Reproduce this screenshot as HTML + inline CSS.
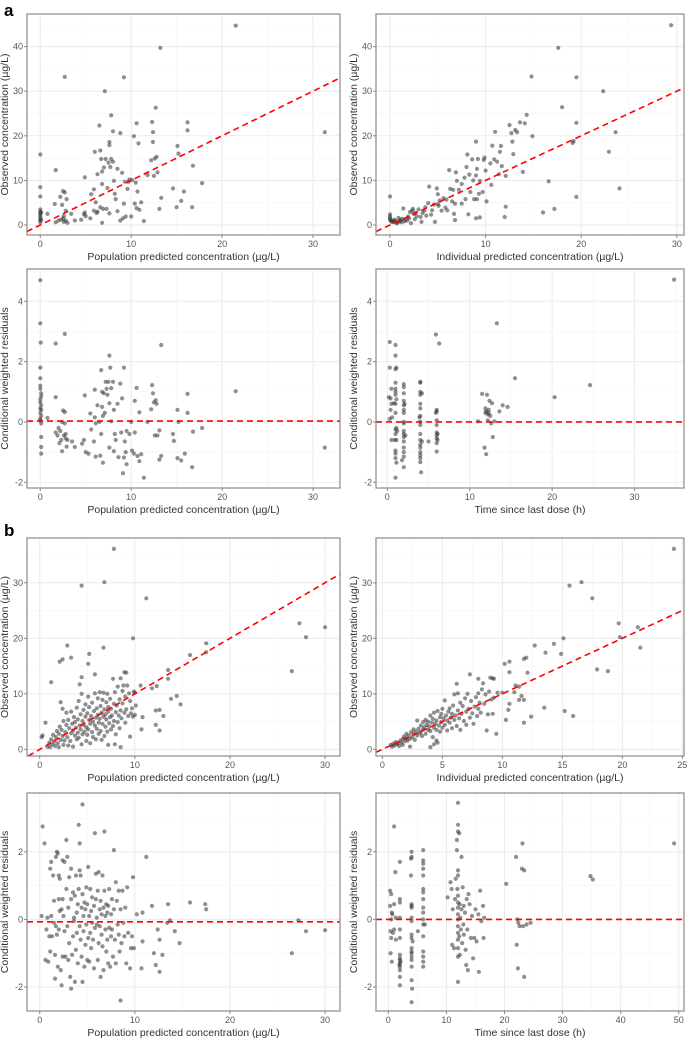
<!DOCTYPE html>
<html><head><meta charset="utf-8"><style>
html,body{margin:0;padding:0;background:#fff}
svg{display:block;font-family:"Liberation Sans",sans-serif}
</style></head><body>
<svg id="fig" width="689" height="1040" viewBox="0 0 689 1040" xmlns="http://www.w3.org/2000/svg">
<text x="4" y="16" font-size="17" font-weight="bold" fill="#000">a</text>
<text x="4" y="536" font-size="17" font-weight="bold" fill="#000">b</text>
</svg>
<script>
const a1Points=[[0,15.8],[0,8.5],[0,6.4],[0,3.5],[0,3],[0,2.6],[0,2.2],[0,1.8],[0,1.4],[0,1],[0,0.6],[0.1,2.8],[0.1,1.2],[0.8,2.5],[1.7,12.3],[1.6,4.7],[1.7,0.6],[2,1],[2.2,6.3],[2.4,4.5],[2.5,7.6],[2.7,7.3],[2.7,33.2],[2.6,2],[2.8,3.2],[2.9,5.8],[2.3,1.2],[2.5,1.5],[2.6,0.7],[3,0.5],[3.4,2.5],[3.8,1],[4.5,1.2],[4.8,2.4],[4.9,10.7],[5,2],[5.5,1.5],[5.6,6.9],[5.9,3.2],[5.9,8],[6,16.4],[6.1,5.1],[6.3,3],[6.3,11.4],[6.5,22.3],[6.6,16.7],[6.8,9.2],[6.7,14.8],[6.8,12],[6.8,0.5],[6.6,4],[6.9,3.6],[7.1,30],[7.2,14.8],[7,12.9],[7.3,3.6],[7.4,8.3],[7.5,14],[7.6,18.6],[7.6,17.9],[7.8,24.6],[7.8,14.8],[7.6,2.6],[7.7,13],[8,14.2],[8,21],[8.1,9.9],[8.2,7],[8.3,5.8],[8.5,12.6],[8.5,3.1],[8.8,20.6],[9,11.7],[9.1,1.5],[9.2,33.1],[9.2,4.8],[9.3,9.7],[9.4,1.9],[9.6,8.1],[9.8,10.2],[10,1.9],[10.3,19.9],[10.4,4.8],[10.5,9.5],[10.6,22.8],[10.6,3.8],[10.7,7.5],[10.8,18.3],[10.9,3.4],[11.1,5.1],[11.4,0.9],[11.8,11.2],[12.2,14.5],[12.3,23.1],[12.4,20.8],[12.4,18.6],[12.5,11],[12.6,14.9],[12.8,15.3],[12.9,11.8],[13.2,39.7],[13.1,3.6],[13.3,6.1],[12.7,26.3],[14.6,8.2],[15,4],[15.1,17.7],[15.2,16],[15.5,5.4],[15.8,7.5],[16.2,23],[16.2,21.2],[16.7,4],[16.8,13.3],[17.8,9.4],[21.5,44.7],[31.3,20.8],[9.7,9.7],[10.1,10.1],[8.8,1],[2.8,1],[4.9,2.8],[6.2,2.7]];
const a2Points=[[0,6.4],[0,2.4],[0,1.9],[0,1.5],[0,1.2],[0.1,0.9],[0.2,0.7],[0.3,1],[0.4,0.6],[0.5,1.2],[0.6,0.8],[0.8,0.5],[1,0.9],[1.2,0.6],[1.3,1.4],[1.4,3.7],[1.6,1.2],[1.8,1],[2,1.5],[2.1,2.9],[2.2,0.4],[2.3,3.2],[2.4,3.6],[2.6,1.3],[2.8,2],[3,3.5],[3.2,1.8],[3.4,2.7],[3.6,3.2],[3.8,2.1],[4,4.9],[4.1,8.6],[4.3,2.3],[4.6,4.6],[4.7,0.7],[4.9,8.2],[5,6.9],[5,4.7],[5.1,4.3],[5.4,3.2],[5.6,6],[5.8,3.9],[6,3.3],[6.2,12.3],[6.3,8.1],[6.5,5.3],[6.6,7.9],[6.7,2.5],[6.8,1.1],[6.9,11.8],[6.8,4.8],[7,9.9],[7.2,7.9],[7.5,4.8],[7.5,9.2],[7.8,10.6],[7.9,5.8],[8,13],[8.1,15.8],[8.2,2.4],[8.3,11.3],[8.4,7.4],[8.6,14.7],[8.7,10],[8.8,5.8],[9,18.7],[9,11.1],[9.1,12.6],[9.1,5.8],[9.2,14.8],[9.3,7],[9.4,1.7],[9,1.5],[9.4,9.9],[9.7,7.4],[9.8,14.6],[9.9,15.1],[10,12.2],[10.1,5.3],[10.5,13.8],[10.6,9],[10.7,17.8],[10.9,14.7],[11,20.9],[11.2,14.2],[11.4,11.4],[11.5,16.4],[11.6,17.7],[11.7,13.2],[12,1.8],[12.1,4.1],[12.1,11],[12.5,22.4],[12.7,20.6],[12.8,18.7],[12.9,15.9],[13.1,21.3],[13.3,20.8],[13.6,23],[13.9,11.9],[14.1,22.8],[14.3,24.7],[14.8,33.3],[14.9,19.9],[16,2.8],[16.6,9.8],[17.2,3.6],[17.6,39.7],[18,26.4],[19.1,18.4],[19.2,18.8],[19.5,33.1],[19.5,22.9],[19.5,6.3],[22.3,30],[22.9,16.4],[23.6,20.8],[24,8.2],[29.4,44.8],[0.7,0.4],[0.9,1.6],[1.1,1.1],[1.5,0.8],[1.9,1.9],[2.5,2.5],[3.7,4],[4.4,3.3],[5.2,5.5],[5.9,5.7],[3.3,0.7],[2.7,2.8]];
const a3Points=[[0,4.7],[0,3.27],[0.05,2.63],[0,1.8],[0,1.45],[0,1.2],[0,1.1],[0.1,0.95],[0.1,0.85],[0,0.75],[0,0.65],[0.1,0.55],[0,0.45],[0.1,0.4],[0,0.3],[0.1,0.2],[0,0.1],[0,0.05],[0.1,-0.05],[0.1,-0.5],[0.1,-0.83],[0.1,-1.05],[0.8,0.13],[1.7,2.6],[1.7,0.82],[1.7,-0.35],[1.9,-0.45],[2,-0.2],[2.1,-0.7],[2.2,-0.3],[2.3,-0.6],[2.4,0],[2.4,-0.97],[2.5,0.38],[2.6,-0.45],[2.7,0.33],[2.7,2.92],[2.7,-0.05],[2.8,-0.4],[2.8,-0.55],[2.9,-0.82],[3,-0.6],[3.5,-0.65],[3.8,-0.83],[4.6,-0.72],[4.8,-0.6],[4.9,0.88],[5,-1],[5.3,-1.05],[5.5,0.28],[5.6,-0.25],[5.9,-0.65],[6,0.15],[6,1.07],[6.1,-0.05],[6.1,-1.15],[6.3,0.55],[6.5,0],[6.6,-1.12],[6.7,1.72],[6.7,-0.4],[6.8,1],[6.8,0.5],[6.9,0.2],[6.9,-1.35],[7,0.95],[7.1,0.3],[7.2,1.33],[7.3,1.1],[7.4,0.9],[7.5,1.33],[7.6,2.2],[7.6,0.62],[7.6,-0.85],[7.7,1.8],[7.8,1.12],[7.8,0.02],[8,1.33],[8.1,0.4],[8.1,-0.97],[8.2,-0.4],[8.3,-0.6],[8.5,0.6],[8.6,-1.17],[8.8,1.27],[8.9,-0.35],[9,0.78],[9.1,-1.7],[9.2,1.8],[9.2,-1.18],[9.3,-0.65],[9.4,-1],[9.5,-1.4],[9.5,-0.3],[9.8,-0.4],[10,0],[10.1,-0.95],[10.3,-1.05],[10.4,0.7],[10.4,-0.35],[10.6,1.13],[10.7,-1.13],[10.9,0.32],[10.9,-1.3],[11.1,-1.07],[11.4,-1.85],[11.8,0],[12.2,0.42],[12.3,1.22],[12.4,0.95],[12.5,0.65],[12.6,-0.45],[12.7,0.72],[12.8,0.6],[12.9,-0.45],[13.1,-0.28],[13.1,-1.25],[13.3,2.55],[13.3,-1.13],[14.6,-0.4],[14.7,-0.63],[15.1,0.4],[15.1,-1.2],[15.2,0],[15.5,-1.28],[15.9,-1.05],[16.2,0.93],[16.2,0.3],[16.7,-1.5],[16.8,-0.32],[17.8,-0.2],[21.5,1.02],[31.3,-0.85]];
const a4Points=[[0.3,2.65],[0.3,1.8],[0.2,0.82],[0.4,0.78],[0.5,0.6],[0.4,0.4],[0.3,0.1],[0.5,-0.6],[0.6,0.15],[0.5,1.1],[0.8,0.62],[1,2.55],[1,2.2],[1.1,1.8],[1,1.75],[1,1.3],[1,1.1],[1,1],[1,0.9],[1.1,0.75],[1,0.6],[1,0.3],[1.1,-0.2],[1,-0.25],[1,-0.4],[1.1,-0.6],[1,-0.95],[1,-1.05],[1,-1.2],[1.1,-1.35],[1,-1.85],[0.9,-0.6],[1.2,-0.3],[2,1.25],[2,1.15],[2,0.95],[2,0.7],[2,0.55],[2,0.4],[2,0.3],[2,0],[2,-0.05],[2,-0.3],[2,-0.4],[2,-0.5],[2,-0.65],[2,-0.85],[2,-1],[2,-1.15],[2,-1.5],[1.8,-1.27],[2.2,-0.45],[2.1,0.6],[4,1.33],[4,1.3],[4,1],[4,0.9],[4,0.6],[4,0.45],[4,0.2],[4,0],[4,-0.1],[4,-0.4],[4,-0.6],[4,-0.75],[4,-0.85],[4,-1],[4,-1.1],[4,-1.2],[4,-1.33],[4.1,-1.67],[3.9,0.15],[4.2,-0.65],[4.2,0.95],[5,-0.65],[5.9,2.9],[6.3,2.6],[6,0.4],[6,0.35],[6,0.05],[6,-0.1],[6,-0.35],[6,-0.45],[6,-0.55],[6,-0.7],[6,-0.98],[6.1,-0.6],[6.1,-0.4],[5.9,0.3],[11,0.02],[11.5,0.93],[11.8,-0.85],[11.9,0.45],[12,0.35],[12,-1.07],[12.1,0.9],[12.2,0.25],[12.3,0.3],[12.3,0.4],[12.4,0.7],[12.5,0.2],[12.6,-0.05],[12.7,0.62],[12.8,-0.5],[13,0.02],[13.3,3.27],[13.6,0.35],[14,0.55],[14.6,0.5],[15.5,1.45],[20.3,0.82],[24.6,1.22],[34.8,4.72],[12.2,0.05],[11.9,0.3]];
const b1Points=[[7.8,36.1],[4.4,29.5],[6.8,30.1],[11.2,27.2],[9.8,20],[2.9,18.7],[6.7,18.3],[3.3,16.5],[2.4,16.2],[2.1,15.8],[5.2,17.2],[5.1,15.4],[5.8,13.5],[4.4,13],[1.2,12.1],[8.9,13.9],[9.1,13.8],[11.8,11],[12.3,11.4],[13.5,12.7],[13.5,14.3],[15.8,17],[17.5,19.1],[17.5,17.5],[26.5,14.1],[27.3,22.7],[28,20.2],[30,22],[12.2,7],[12.6,7.1],[13,6],[12.2,4.4],[12.6,3.4],[10.7,3.6],[10.8,5.8],[13.8,9.1],[14.4,9.6],[14.8,8.1],[9.5,2.3],[8.5,0.4],[7.2,0.8],[7.9,0.9],[10.6,11.5],[9.9,10.4],[10.1,7.9],[0.6,4.8],[0.2,2.2],[0.3,2.5],[0.8,0.5],[1,1.2],[1.1,0.4],[1.2,1.8],[1.3,0.9],[1.4,2.6],[1.5,1.4],[1.6,0.6],[1.7,2.2],[1.8,3.3],[1.9,1.1],[2,0.4],[2,2.8],[2.1,4.1],[2.2,1.7],[2.2,8.5],[2.3,3.5],[2.4,2.4],[2.4,7.3],[2.5,5.1],[2.5,0.8],[2.6,1.6],[2.7,3.1],[2.8,6.6],[2.8,4.4],[2.9,2.2],[3,0.7],[3,5.3],[3.1,3.8],[3.2,1.5],[3.3,2.9],[3.3,6.8],[3.4,4.6],[3.5,0.5],[3.5,3.4],[3.6,5.8],[3.7,2.5],[3.7,4.9],[3.8,3.9],[3.9,7.5],[3.9,1.8],[4,3],[4,5.4],[4.1,8.7],[4.1,2.1],[4.2,4.3],[4.2,11.7],[4.3,6.3],[4.3,3.6],[4.4,10],[4.4,0.9],[4.5,5.1],[4.5,2.7],[4.6,7.1],[4.6,4.4],[4.7,3.2],[4.8,8.1],[4.8,5.9],[4.9,1.5],[4.9,4],[5,6.5],[5,2.6],[5.1,9.5],[5.1,3.6],[5.2,5.3],[5.2,7.6],[5.3,4.6],[5.3,1.1],[5.4,6],[5.5,3.1],[5.5,8.4],[5.6,5],[5.6,2.2],[5.7,6.9],[5.8,4.3],[5.8,10.1],[5.9,5.7],[5.9,1.8],[6,7.4],[6,3.7],[6.1,6.2],[6.1,9.2],[6.2,4.8],[6.2,2.8],[6.3,5.5],[6.3,10.3],[6.4,7.8],[6.4,3.3],[6.5,6.6],[6.5,1.7],[6.6,8.9],[6.6,4.6],[6.7,5.9],[6.7,10.2],[6.8,7.2],[6.8,2.4],[6.9,6.3],[6.9,4.1],[7,8.5],[7,5.4],[7.1,10],[7.1,3.2],[7.2,6.8],[7.2,7.6],[7.3,4.7],[7.4,9.1],[7.4,5.8],[7.5,3.6],[7.5,7.3],[7.6,6.1],[7.7,12.7],[7.7,4.2],[7.8,8.2],[7.8,5.1],[7.9,10.3],[8,6.7],[8,2.7],[8.1,7.9],[8.2,4.9],[8.2,11.3],[8.3,6.1],[8.4,9],[8.4,3.8],[8.5,12.8],[8.5,7],[8.6,5.6],[8.7,10.5],[8.7,8.3],[8.8,11.5],[8.9,6.6],[9,4.8],[9,9.5],[9.1,7.2],[9.2,11.5],[9.3,6],[9.4,10.1],[9.5,8.7],[9.6,6.5],[9.7,7.4],[9.8,5.9],[10,10.2],[10,6.2]];
const b2Points=[[24.3,36.1],[15.6,29.5],[16.6,30.1],[17.5,27.2],[19.7,22.7],[19.8,20.2],[21.3,22],[21.5,18.3],[17.9,14.4],[18.8,14.1],[15.1,20],[14.9,17.2],[14.3,19],[13.6,17.4],[12.7,18.7],[12,16.5],[11.8,16.3],[12.1,13.8],[10.2,15.4],[10.6,15.8],[10.6,13.9],[11.1,11.5],[11.4,11.3],[11.6,9.6],[11.8,8.9],[11.8,4.8],[12.4,5.9],[13.5,7.5],[15.2,6.9],[15.9,6],[10.3,5.3],[9.5,2.8],[8.7,3.4],[4,0.4],[4.3,0.9],[4.5,1.6],[7.3,13.5],[6.2,11.8],[8,12.7],[8.4,11.9],[9,12.9],[9.2,12.8],[10.6,8.2],[10.5,7.1],[11,10.3],[11.4,8.9],[10,10.2],[9.3,9.3],[9.2,6.4],[8.8,6.3],[8,7.3],[0.7,0.8],[0.8,0.5],[0.9,1],[1,0.7],[1.1,1.3],[1.2,0.9],[1.3,1.1],[1.4,0.6],[1.5,1.6],[1.6,1.2],[1.7,1.9],[1.7,0.8],[1.8,2.3],[1.9,1.5],[2,2],[2,2.8],[2.1,1.6],[2.2,2.5],[2.3,0.5],[2.3,1.9],[2.4,3.1],[2.5,2.2],[2.6,2.8],[2.6,3.6],[2.7,1.7],[2.8,3.2],[2.9,2.5],[2.9,5.2],[3,3.7],[3.1,2.9],[3.2,4.3],[3.2,3.2],[3.3,2.4],[3.4,4.9],[3.4,3.6],[3.5,4],[3.6,2.8],[3.6,5.3],[3.7,4.4],[3.8,3.5],[3.8,5],[3.9,4.1],[4,6.1],[4,3.3],[4.1,4.8],[4.2,2.2],[4.2,5.5],[4.3,3.9],[4.3,6.6],[4.4,4.6],[4.5,5.2],[4.5,3.5],[4.6,6.9],[4.6,1.2],[4.7,4.3],[4.8,5.8],[4.8,3.2],[4.9,6.4],[4.9,4.9],[5,7.3],[5,3.9],[5.1,5.6],[5.2,8.8],[5.2,4.4],[5.3,6.1],[5.4,5.2],[5.4,3.4],[5.5,6.8],[5.6,4.8],[5.6,7.4],[5.7,5.7],[5.8,3.8],[5.8,6.4],[5.9,7.9],[6,5.3],[6,9.9],[6.1,6.1],[6.2,4.2],[6.3,7],[6.3,10.1],[6.4,5.6],[6.5,8.4],[6.5,3.5],[6.6,6.4],[6.7,7.8],[6.8,5.1],[6.9,9.2],[7,6.8],[7,4.4],[7.1,10],[7.2,7.3],[7.3,5.7],[7.4,8.7],[7.5,6.5],[7.6,4.6],[7.7,7.7],[7.8,9.4],[7.9,6],[8,10.1],[8.1,8.4],[8.2,6.6],[8.3,10.8],[8.5,8.2],[8.6,9.9],[8.9,10.4],[9.1,9],[9.3,12.7],[9.6,10.2]];
const b3Points=[[0.2,0.1],[0.3,2.75],[0.5,2.25],[0.6,-1.2],[0.7,-0.3],[0.8,0.05],[0.9,-1.25],[1,-0.5],[1.1,1.5],[1.1,-0.95],[1.2,1.7],[1.2,0.1],[1.3,-0.5],[1.4,1.3],[1.5,-0.1],[1.5,0.55],[1.6,-1.75],[1.6,-1.05],[1.7,1.85],[1.7,-0.2],[1.8,2],[1.8,-0.45],[1.9,1.95],[1.9,-1.4],[2,0.6],[2,1.3],[2,-0.3],[2.1,1.2],[2.1,0.25],[2.2,-1.5],[2.3,0.3],[2.3,-1.95],[2.4,1.75],[2.4,0.6],[2.4,-1.1],[2.5,0.1],[2.6,1.7],[2.6,-0.35],[2.7,-1.1],[2.8,0.9],[2.8,2.35],[2.9,-0.2],[2.9,1.85],[3,-1.2],[3,0.35],[3.1,1.25],[3.1,-0.7],[3.2,-1.7],[3.3,-2.05],[3.3,1.5],[3.3,0.6],[3.4,-1.05],[3.5,0.8],[3.5,-0.5],[3.6,0.05],[3.6,-0.05],[3.7,-1.85],[3.7,0.7],[3.8,1.3],[3.8,-0.9],[3.9,0.2],[3.9,-0.4],[4,0.45],[4,-1.3],[4.1,2.8],[4.1,0.9],[4.2,-0.2],[4.2,1.45],[4.2,2.25],[4.3,-0.6],[4.3,1.3],[4.4,0.35],[4.4,-1.1],[4.5,3.4],[4.5,-1.85],[4.5,0.75],[4.6,-0.35],[4.6,0.1],[4.7,-1.4],[4.7,0.5],[4.8,-0.75],[4.8,0.3],[4.9,0.95],[4.9,-0.15],[5,-1.2],[5,0.45],[5.1,1.55],[5.1,-0.55],[5.2,0.1],[5.2,-1.25],[5.3,0.9],[5.3,-0.4],[5.4,0.25],[5.4,-0.85],[5.5,0.65],[5.5,-0.1],[5.6,-0.6],[5.7,0.4],[5.7,-1.45],[5.8,2.55],[5.8,-0.25],[5.9,0.6],[5.9,1.35],[6,-0.15],[6,0.05],[6.1,-1.2],[6.1,0.85],[6.2,1.4],[6.2,-0.7],[6.3,0.3],[6.3,-0.2],[6.4,0.55],[6.4,-1.7],[6.5,-0.45],[6.5,0.15],[6.6,-0.8],[6.6,1.3],[6.7,0.35],[6.7,-1.5],[6.8,0.85],[6.8,2.6],[6.9,-0.3],[6.9,0.1],[7,-0.95],[7,0.45],[7.1,-0.6],[7.1,0.2],[7.2,-1.3],[7.2,0.4],[7.3,-0.25],[7.3,0.9],[7.4,-1.4],[7.5,0.15],[7.5,-0.5],[7.6,-0.3],[7.6,0.6],[7.7,-1.1],[7.8,2.05],[7.8,0.3],[7.9,-0.6],[8,1.1],[8,-1.3],[8.1,0.55],[8.2,-0.15],[8.3,0.85],[8.3,-0.45],[8.4,-0.95],[8.5,-2.4],[8.5,0.3],[8.6,-0.7],[8.7,0.85],[8.8,-0.1],[8.9,-0.5],[9,0.35],[9.1,-1.3],[9.2,0.95],[9.3,-0.4],[9.5,-1.45],[9.6,-0.85],[9.7,-0.5],[9.8,1.25],[9.9,-0.85],[10.2,0.15],[10.8,0.2],[10.8,-0.65],[10.7,-1.45],[11.2,1.85],[11.8,0.4],[12,-1],[12.2,-1.35],[12.4,-0.3],[12.6,-0.6],[12.6,-1.55],[12.9,-1.05],[13.4,-0.1],[13.5,0.45],[13.7,-0.03],[14.2,-0.35],[14.7,-0.7],[15.8,0.5],[17.4,0.45],[17.5,0.3],[26.5,-1],[27.2,-0.03],[28,-0.35],[30,-0.32]];
const b4Points=[[0.3,0.85],[0.3,0.4],[0.4,-0.35],[0.4,-1],[0.5,0.75],[0.5,0],[0.5,-0.55],[0.6,0.2],[0.6,-1.25],[0.7,0.15],[0.8,-0.4],[1,2.75],[1,0.45],[1,-0.3],[1.2,1.4],[1.3,-0.6],[1.3,0.05],[2,1.7],[2,0.6],[2,0.5],[2,0.05],[2,-0.3],[2,-0.55],[2,-1.05],[2,-1.15],[2,-1.2],[2,-1.3],[2,-1.4],[2,-1.5],[2,-1.7],[2,-1.95],[2.1,-1.25],[1.9,-1.35],[3.9,1.8],[3.9,1.3],[4,2],[4,1.85],[4,0.45],[4,0.4],[4,0.35],[4,0.05],[4,-0.05],[4,-0.45],[4,-0.55],[4,-0.85],[4,-0.95],[4,-1],[4,-1.1],[4,-1.2],[4,-1.4],[4,-1.8],[4.1,-2.05],[4,-2.45],[4.2,-0.65],[5.1,-0.35],[6,2.05],[6,1.75],[6,1.65],[6,1.5],[6,1.3],[6,0.9],[6,0.8],[6,0.6],[6,0.35],[6,0.2],[6,0],[6,-0.15],[6,-0.5],[6,-0.95],[6,-1.1],[6,-1.25],[6,-1.4],[6.3,-0.15],[10.2,0.65],[10.7,1.1],[10.9,0.9],[11,-0.75],[11.1,0.3],[11.3,-0.85],[11.5,0.6],[11.6,1.2],[11.8,2.05],[11.8,2.35],[11.9,0.9],[12,3.45],[12,2.8],[12,2.6],[12,1.45],[12,1.3],[12,0.7],[12,0.5],[12,0.35],[12,0.15],[12,0],[12,-0.2],[12,-0.4],[12,-0.6],[12,-0.85],[12,-1.1],[12,-1.85],[12.2,2.55],[12.2,-0.5],[12.3,0.45],[12.3,-1.05],[12.4,0.05],[12.5,-0.3],[12.6,1.85],[12.6,0.3],[12.7,-0.7],[12.8,0.95],[12.9,-0.15],[13,0.4],[13,-0.45],[13.2,0.2],[13.3,-0.9],[13.4,-1.35],[13.5,0.6],[13.6,-0.3],[13.7,-1.5],[13.8,0.75],[14,0.45],[14.2,-0.55],[14.4,0.1],[14.6,-1.15],[14.8,-0.55],[15,0.3],[15.2,-0.65],[15.5,0.15],[15.6,-1.55],[15.8,0.85],[16,-0.05],[16.3,0.4],[16.4,-0.55],[16.5,0.05],[20.3,1.05],[22,1.85],[22.1,-0.75],[22.2,0],[22.3,-1.45],[22.4,-0.1],[22.6,-0.2],[23,1.5],[23.1,2.25],[23.2,-0.2],[23.4,1.45],[23.4,-1.7],[23.8,-0.15],[24.5,-0.1],[34.8,1.28],[35.2,1.18],[49.2,2.25]];
const concTicksA=[0,10,20,30,40];
const concTicksB=[0,10,20,30];
const xTicks30=[0,10,20,30];
const xTicks25=[0,5,10,15,20,25];
const xTicks50=[0,10,20,30,40,50];
const cwresTicksA=[-2,0,2,4];
const cwresTicksB=[-2,0,2];
const refHlines={a3:0.03,a4:0,b3:-0.07,b4:0};

const NS='http://www.w3.org/2000/svg';
const svg=document.getElementById('fig');
function mk(tag,attrs,parent){const e=document.createElementNS(NS,tag);for(const k in attrs)e.setAttribute(k,attrs[k]);(parent||svg).appendChild(e);return e;}
const TPOP='Population predicted concentration (µg/L)',TIND='Individual predicted concentration (µg/L)',TTAD='Time since last dose (h)',TOBS='Observed concentration (µg/L)',TCW='Conditional weighted residuals';
const panels=[
 {id:'a1',box:[27,14,340,235],xd:[-1.46,32.97],yd:[-2.24,47.3],xt:xTicks30,yt:concTicksA,pts:a1Points,xl:TPOP,yl:TOBS,ref:'id'},
 {id:'a2',box:[376,14,684,235],xd:[-1.46,30.75],yd:[-2.24,47.3],xt:xTicks30,yt:concTicksA,pts:a2Points,xl:TIND,yl:TOBS,ref:'id'},
 {id:'a3',box:[27,269,340,488],xd:[-1.46,32.97],yd:[-2.19,5.07],xt:xTicks30,yt:cwresTicksA,pts:a3Points,xl:TPOP,yl:TCW,ref:'h'},
 {id:'a4',box:[376,269,684,488],xd:[-1.37,36.0],yd:[-2.19,5.07],xt:xTicks30,yt:cwresTicksA,pts:a4Points,xl:TTAD,yl:TCW,ref:'h'},
 {id:'b1',box:[27,538,340,756],xd:[-1.34,31.57],yd:[-1.2,38.07],xt:xTicks30,yt:concTicksB,pts:b1Points,xl:TPOP,yl:TOBS,ref:'id'},
 {id:'b2',box:[376,538,684,756],xd:[-0.53,25.14],yd:[-1.2,38.07],xt:xTicks25,yt:concTicksB,pts:b2Points,xl:TIND,yl:TOBS,ref:'id'},
 {id:'b3',box:[27,793,340,1011],xd:[-1.34,31.57],yd:[-2.71,3.74],xt:xTicks30,yt:cwresTicksB,pts:b3Points,xl:TPOP,yl:TCW,ref:'h'},
 {id:'b4',box:[376,793,684,1011],xd:[-2.12,50.9],yd:[-2.71,3.74],xt:xTicks50,yt:cwresTicksB,pts:b4Points,xl:TTAD,yl:TCW,ref:'h'}
];
panels.forEach(p=>{
 const [L,T,R,B]=p.box;
 const sx=v=>L+(v-p.xd[0])/(p.xd[1]-p.xd[0])*(R-L);
 const sy=v=>B-(v-p.yd[0])/(p.yd[1]-p.yd[0])*(B-T);
 const g=mk('g',{});
 
 
 const clip=mk('clipPath',{id:'c'+p.id},g);mk('rect',{x:L,y:T,width:R-L,height:B-T},clip);
 const grid=mk('g',{'clip-path':'url(#c'+p.id+')'},g);
 
 
 const xs=p.xt[1]-p.xt[0], ys=p.yt[1]-p.yt[0];
 for(let v=p.xt[0]-xs/2;v<=p.xd[1];v+=xs/2){const maj=Math.abs((v-p.xt[0])/xs-Math.round((v-p.xt[0])/xs))<1e-6;mk('line',{x1:sx(v),x2:sx(v),y1:T,y2:B,stroke:maj?'#ebebeb':'#f5f5f5','stroke-width':maj?1:0.6},grid);}
 for(let v=p.yt[0]-ys/2;v<=p.yd[1];v+=ys/2){const maj=Math.abs((v-p.yt[0])/ys-Math.round((v-p.yt[0])/ys))<1e-6;mk('line',{y1:sy(v),y2:sy(v),x1:L,x2:R,stroke:maj?'#ebebeb':'#f5f5f5','stroke-width':maj?1:0.6},grid);}
 const pg=mk('g',{'clip-path':'url(#c'+p.id+')'},g);
 
 
 p.pts.forEach(d=>{const c=mk('circle',{cx:sx(d[0]).toFixed(1),cy:sy(d[1]).toFixed(1),r:2.1,fill:'#333','fill-opacity':0.55},pg);
  
  });
 let ln;
 if(p.ref==='id'){const lo=Math.max(p.xd[0],p.yd[0]),hi=Math.min(p.xd[1],p.yd[1]);ln=mk('line',{x1:sx(lo),y1:sy(lo),x2:sx(hi),y2:sy(hi)},pg);}
 else{const h=refHlines[p.id];ln=mk('line',{x1:L,x2:R,y1:sy(h),y2:sy(h)},pg);}
 ln.setAttribute('stroke','#f00');ln.setAttribute('stroke-width','1.6');ln.setAttribute('stroke-dasharray','6,4');
 
 
 const bx=mk('rect',{x:L,y:T,width:R-L,height:B-T,fill:'none',stroke:'#8a8a8a','stroke-width':1.2},g);
 
 
 p.xt.forEach(v=>{mk('line',{x1:sx(v),x2:sx(v),y1:B,y2:B+3,stroke:'#8a8a8a'},g);
  const t=mk('text',{x:sx(v),y:B+12,'font-size':9,fill:'#555','text-anchor':'middle'},g);t.textContent=v;
  
  });
 p.yt.forEach(v=>{mk('line',{x1:L-3,x2:L,y1:sy(v),y2:sy(v),stroke:'#8a8a8a'},g);
  const t=mk('text',{x:L-4,y:sy(v)+3,'font-size':9,fill:'#555','text-anchor':'end'},g);t.textContent=v;
  
  });
 const xt=mk('text',{x:(L+R)/2,y:B+25,'font-size':10.5,fill:'#333','text-anchor':'middle'},g);xt.textContent=p.xl;
 
 
 const yx=L-19,yc=(T+B)/2;
 const yt=mk('text',{x:yx,y:yc,'font-size':10.5,fill:'#333','text-anchor':'middle',transform:'rotate(-90 '+yx+' '+yc+')'},g);yt.textContent=p.yl;
 
 
});
</script>
</body></html>
